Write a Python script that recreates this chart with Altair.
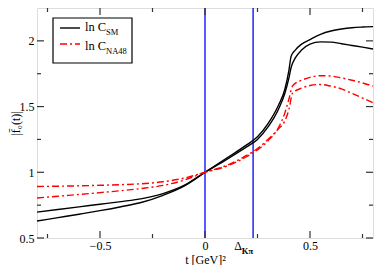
import altair as alt
import pandas as pd

# ---- data ----
t_sm = [-0.8, -0.7, -0.6, -0.5, -0.4, -0.3, -0.2, -0.1, 0, 0.1, 0.2, 0.25, 0.3, 0.35,
        0.38, 0.4, 0.41, 0.43, 0.46, 0.5, 0.55, 0.6, 0.65, 0.7, 0.75, 0.8]
sm_a = [0.629, 0.655, 0.681, 0.708, 0.738, 0.772, 0.825, 0.895, 1.0, 1.105, 1.21, 1.27, 1.37, 1.51,
        1.63, 1.78, 1.882, 1.93, 1.975, 2.01, 2.05, 2.075, 2.09, 2.10, 2.105, 2.108]
sm_b = [0.697, 0.717, 0.737, 0.757, 0.777, 0.800, 0.838, 0.90, 1.0, 1.095, 1.195, 1.25, 1.345, 1.48,
        1.60, 1.72, 1.797, 1.87, 1.93, 1.975, 1.992, 1.99, 1.978, 1.965, 1.952, 1.938]

t_na = [-0.8, -0.7, -0.6, -0.5, -0.4, -0.3, -0.2, -0.1, 0, 0.1, 0.2, 0.25, 0.3, 0.35,
        0.38, 0.4, 0.417, 0.46, 0.5, 0.55, 0.6, 0.65, 0.7, 0.75, 0.8]
na_c = [0.892, 0.894, 0.897, 0.901, 0.906, 0.913, 0.928, 0.955, 1.0, 1.045, 1.12, 1.17, 1.24, 1.34,
        1.45, 1.56, 1.657, 1.70, 1.722, 1.735, 1.732, 1.718, 1.70, 1.68, 1.655]
na_d = [0.804, 0.818, 0.831, 0.845, 0.86, 0.877, 0.90, 0.94, 1.0, 1.05, 1.13, 1.18, 1.25, 1.33,
        1.39, 1.48, 1.602, 1.64, 1.66, 1.668, 1.655, 1.635, 1.60, 1.565, 1.529]

vlines = [0.0, 0.229]
x_major = [-0.5, 0.0, 0.5]
x_minor = [-0.75, -0.25, 0.25, 0.75]
y_major = [0.5, 1.0, 1.5, 2.0]
y_minor = [0.75, 1.25, 1.75]

XMIN, XMAX = -0.8, 0.8
YMIN, YMAX = 0.5, 2.25
W, H = 336, 230
FONT = "Liberation Serif"

rows = []
for t, v in zip(t_sm, sm_a):
    rows.append({"t": t, "f": v, "s": "sm_a"})
for t, v in zip(t_sm, sm_b):
    rows.append({"t": t, "f": v, "s": "sm_b"})
df_sm = pd.DataFrame(rows)
rows = []
for t, v in zip(t_na, na_c):
    rows.append({"t": t, "f": v, "s": "na_c"})
for t, v in zip(t_na, na_d):
    rows.append({"t": t, "f": v, "s": "na_d"})
df_na = pd.DataFrame(rows)

xs = alt.Scale(domain=[XMIN, XMAX], nice=False, zero=False)
ys = alt.Scale(domain=[YMIN, YMAX], nice=False, zero=False)

xenc = alt.X("t:Q", scale=xs,
             axis=alt.Axis(values=x_major, ticks=False, grid=False, domain=False,
                           labelFont=FONT, labelFontSize=12, labelColor="black",
                           labelPadding=2, format="~g",
                           title="t [GeV]²", titleFont=FONT, titleFontSize=12,
                           titleFontWeight="normal", titleColor="black",
                           titleY=25, titleBaseline="alphabetic"))
yenc = alt.Y("f:Q", scale=ys,
             axis=alt.Axis(values=y_major, ticks=False, grid=False, domain=False,
                           labelFont=FONT, labelFontSize=12, labelColor="black",
                           labelPadding=3, format="~g",
                           title="|f\u0304\u2080(t)|", titleFont=FONT, titleFontSize=12,
                           titleFontWeight="normal", titleColor="black",
                           titleX=-22, titleBaseline="middle"))

sm = alt.Chart(df_sm).mark_line(color="black", strokeWidth=1.4, interpolate="monotone").encode(
    x=xenc, y=yenc, detail="s:N")
na = alt.Chart(df_na).mark_line(color="#ff0000", strokeWidth=1.4, strokeDash=[7, 3, 2, 3],
                                interpolate="monotone").encode(
    x=alt.X("t:Q", scale=xs), y=alt.Y("f:Q", scale=ys), detail="s:N")

vl = alt.Chart(pd.DataFrame({"t": vlines})).mark_rule(color="#0000ff", strokeWidth=1.3).encode(
    x=alt.X("t:Q", scale=xs))

# inward ticks on all four sides
tick_rows = []
ymaj, ymin_ = 7 / H * (YMAX - YMIN), 4 / H * (YMAX - YMIN)
xmaj, xmin_ = 7 / W * (XMAX - XMIN), 4 / W * (XMAX - XMIN)
for v in x_major + x_minor:
    L = ymaj if v in x_major else ymin_
    tick_rows.append({"x": v, "x2": v, "y": YMIN, "y2": YMIN + L})
    tick_rows.append({"x": v, "x2": v, "y": YMAX, "y2": YMAX - L})
for v in y_major + y_minor:
    L = xmaj if v in y_major else xmin_
    tick_rows.append({"x": XMIN, "x2": XMIN + L, "y": v, "y2": v})
    tick_rows.append({"x": XMAX, "x2": XMAX - L, "y": v, "y2": v})
ticks = alt.Chart(pd.DataFrame(tick_rows)).mark_rule(color="#333333", strokeWidth=1.2).encode(
    x=alt.X("x:Q", scale=xs), x2="x2:Q", y=alt.Y("y:Q", scale=ys), y2="y2:Q")

# Delta_Kpi label below axis
dlab = alt.Chart(pd.DataFrame({"t": [vlines[1]]})).mark_text(
    font=FONT, fontSize=12, align="right", baseline="alphabetic", dx=-11, color="black").encode(
    x=alt.X("t:Q", scale=xs), y=alt.value(H + 12), text=alt.value("Δ"))
dsub = alt.Chart(pd.DataFrame({"t": [vlines[1]]})).mark_text(
    font=FONT, fontSize=8.5, fontWeight="bold", align="right", baseline="alphabetic", dx=0,
    color="black").encode(
    x=alt.X("t:Q", scale=xs), y=alt.value(H + 16), text=alt.value("Kπ"))

# legend box
one = pd.DataFrame({"a": [0]})
box = alt.Chart(one).mark_rect(fill="white", stroke="black", strokeWidth=1.2).encode(
    x=alt.value(16), x2=alt.value(95), y=alt.value(10), y2=alt.value(55))
l1 = alt.Chart(one).mark_rule(color="black", strokeWidth=1.4).encode(
    x=alt.value(23), x2=alt.value(43), y=alt.value(20))
l2 = alt.Chart(one).mark_rule(color="#ff0000", strokeWidth=1.4, strokeDash=[7, 3, 2, 3]).encode(
    x=alt.value(23), x2=alt.value(43), y=alt.value(36))
t1 = alt.Chart(one).mark_text(font=FONT, fontSize=12.5, align="left", baseline="alphabetic",
                              color="black").encode(x=alt.value(48), y=alt.value(23),
                                                    text=alt.value("ln C"))
s1 = alt.Chart(one).mark_text(font=FONT, fontSize=8.5, align="left", baseline="alphabetic",
                              color="black").encode(x=alt.value(69), y=alt.value(27),
                                                    text=alt.value("SM"))
t2 = alt.Chart(one).mark_text(font=FONT, fontSize=12.5, align="left", baseline="alphabetic",
                              color="black").encode(x=alt.value(48), y=alt.value(42),
                                                    text=alt.value("ln C"))
s2 = alt.Chart(one).mark_text(font=FONT, fontSize=8.5, align="left", baseline="alphabetic",
                              color="black").encode(x=alt.value(69), y=alt.value(46),
                                                    text=alt.value("NA48"))

chart = alt.layer(vl, sm, na, ticks, dlab, dsub, box, l1, l2, t1, s1, t2, s2).properties(
    width=W, height=H,
    autosize=alt.AutoSizeParams(type="none"),
    padding={"left": 29, "top": 0, "right": 1, "bottom": 27},
).configure_view(stroke="#333333", strokeWidth=1.5).configure(background="white")

chart.save("out.html", embed_options={"renderer": "svg", "actions": False})
